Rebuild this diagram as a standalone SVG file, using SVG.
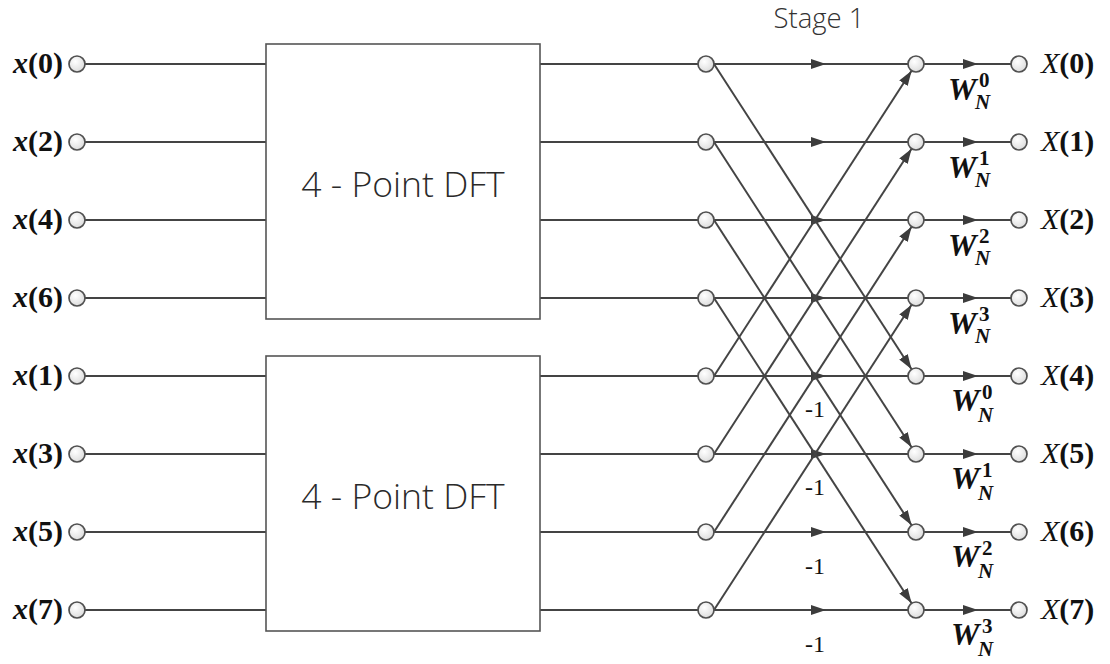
<svg xmlns="http://www.w3.org/2000/svg" width="1110" height="664" viewBox="0 0 1110 664">
  <defs>
    <radialGradient id="nodeFill" cx="0.4" cy="0.35" r="0.75">
      <stop offset="0" stop-color="#ffffff"/>
      <stop offset="1" stop-color="#d8d8d8"/>
    </radialGradient>
    <marker id="arrow" markerUnits="userSpaceOnUse" markerWidth="16" markerHeight="11" refX="15" refY="5" orient="auto" viewBox="0 0 16 10">
      <path d="M0,0 L15,5 L0,10 z" fill="#3c3c3c"/>
    </marker>
    <style>
      .wire { stroke: #444; stroke-width: 2; fill: none; }
      .flow { stroke: #444; stroke-width: 2; fill: none; marker-end: url(#arrow); }
      .node { fill: url(#nodeFill); stroke: #505050; stroke-width: 1.7; }
      .block { fill: #fff; stroke: #555; stroke-width: 1.6; }
      .blockText { font-family: "Open Sans", "Noto Sans", sans-serif; font-weight: 300; font-size: 35.5px; fill: #2a2a2a; text-anchor: middle; }
      .stage { font-family: "Open Sans", "Noto Sans", sans-serif; font-weight: 300; font-size: 27.5px; fill: #333; text-anchor: middle; }
      .inLabel { font-family: "Liberation Serif", "Times New Roman", serif; font-size: 30px; font-weight: bold; fill: #111; text-anchor: end; }
      .outLabel { font-family: "Liberation Serif", "Times New Roman", serif; font-size: 30px; fill: #111; }
      .it { font-style: italic; }
      .bd { font-weight: bold; }
      .tw { font-family: "Liberation Serif", "Times New Roman", serif; font-weight: bold; fill: #111; }
      .tw .w { font-size: 32px; font-style: italic; }
      .tw .sup { font-size: 21px; }
      .tw .sub { font-size: 21px; font-style: italic; }
      .neg { font-family: "Liberation Serif", "Times New Roman", serif; font-size: 24px; fill: #111; text-anchor: middle; }
    </style>
  </defs>

  <rect width="1110" height="664" fill="#fff"/>

  <text class="stage" x="819" y="28">Stage 1</text>

  <!-- wires and butterfly connectors -->
  <g id="connectors">
    <!-- inputs into the 4-point blocks -->
    <path class="wire" d="M85,64 H266 M85,142 H266 M85,220 H266 M85,298 H266 M85,376 H266 M85,454 H266 M85,532 H266 M85,610 H266"/>
    <!-- block outputs to stage nodes -->
    <path class="wire" d="M540,64 H698 M540,142 H698 M540,220 H698 M540,298 H698 M540,376 H698 M540,454 H698 M540,532 H698 M540,610 H698"/>
    <!-- straight butterfly branches -->
    <path class="flow" d="M714,64 H826"/><path class="wire" d="M826,64 H908"/>
    <path class="flow" d="M714,142 H826"/><path class="wire" d="M826,142 H908"/>
    <path class="flow" d="M714,220 H826"/><path class="wire" d="M826,220 H908"/>
    <path class="flow" d="M714,298 H826"/><path class="wire" d="M826,298 H908"/>
    <path class="flow" d="M714,376 H826"/><path class="wire" d="M826,376 H908"/>
    <path class="flow" d="M714,454 H826"/><path class="wire" d="M826,454 H908"/>
    <path class="flow" d="M714,532 H826"/><path class="wire" d="M826,532 H908"/>
    <path class="flow" d="M714,610 H826"/><path class="wire" d="M826,610 H908"/>
    <!-- crossing butterfly branches (down) -->
    <path class="flow" d="M714,64 L911.6,369.3"/>
    <path class="flow" d="M714,142 L911.6,447.3"/>
    <path class="flow" d="M714,220 L911.6,525.3"/>
    <path class="flow" d="M714,298 L911.6,603.3"/>
    <!-- crossing butterfly branches (up) -->
    <path class="flow" d="M714,376 L911.6,70.7"/>
    <path class="flow" d="M714,454 L911.6,148.7"/>
    <path class="flow" d="M714,532 L911.6,226.7"/>
    <path class="flow" d="M714,610 L911.6,304.7"/>
    <!-- twiddle-factor branches to outputs -->
    <path class="flow" d="M924,64 H978"/><path class="wire" d="M978,64 H1011"/>
    <path class="flow" d="M924,142 H978"/><path class="wire" d="M978,142 H1011"/>
    <path class="flow" d="M924,220 H978"/><path class="wire" d="M978,220 H1011"/>
    <path class="flow" d="M924,298 H978"/><path class="wire" d="M978,298 H1011"/>
    <path class="flow" d="M924,376 H978"/><path class="wire" d="M978,376 H1011"/>
    <path class="flow" d="M924,454 H978"/><path class="wire" d="M978,454 H1011"/>
    <path class="flow" d="M924,532 H978"/><path class="wire" d="M978,532 H1011"/>
    <path class="flow" d="M924,610 H978"/><path class="wire" d="M978,610 H1011"/>
  </g>

  <!-- 4-point DFT blocks -->
  <g id="dft-even">
    <rect class="block" x="266" y="44" width="274" height="275"/>
    <text class="blockText" x="403" y="197">4 - Point DFT</text>
  </g>
  <g id="dft-odd">
    <rect class="block" x="266" y="356" width="274" height="275"/>
    <text class="blockText" x="403" y="509">4 - Point DFT</text>
  </g>

  <!-- input nodes -->
  <g id="in-0"><circle class="node" cx="77" cy="64" r="8"/><text class="inLabel" x="63" y="73"><tspan class="it">x</tspan>(0)</text></g>
  <g id="in-2"><circle class="node" cx="77" cy="142" r="8"/><text class="inLabel" x="63" y="151"><tspan class="it">x</tspan>(2)</text></g>
  <g id="in-4"><circle class="node" cx="77" cy="220" r="8"/><text class="inLabel" x="63" y="229"><tspan class="it">x</tspan>(4)</text></g>
  <g id="in-6"><circle class="node" cx="77" cy="298" r="8"/><text class="inLabel" x="63" y="307"><tspan class="it">x</tspan>(6)</text></g>
  <g id="in-1"><circle class="node" cx="77" cy="376" r="8"/><text class="inLabel" x="63" y="385"><tspan class="it">x</tspan>(1)</text></g>
  <g id="in-3"><circle class="node" cx="77" cy="454" r="8"/><text class="inLabel" x="63" y="463"><tspan class="it">x</tspan>(3)</text></g>
  <g id="in-5"><circle class="node" cx="77" cy="532" r="8"/><text class="inLabel" x="63" y="541"><tspan class="it">x</tspan>(5)</text></g>
  <g id="in-7"><circle class="node" cx="77" cy="610" r="8"/><text class="inLabel" x="63" y="619"><tspan class="it">x</tspan>(7)</text></g>

  <!-- stage input nodes -->
  <g id="a-0"><circle class="node" cx="706" cy="64" r="8"/></g>
  <g id="a-1"><circle class="node" cx="706" cy="142" r="8"/></g>
  <g id="a-2"><circle class="node" cx="706" cy="220" r="8"/></g>
  <g id="a-3"><circle class="node" cx="706" cy="298" r="8"/></g>
  <g id="a-4"><circle class="node" cx="706" cy="376" r="8"/></g>
  <g id="a-5"><circle class="node" cx="706" cy="454" r="8"/></g>
  <g id="a-6"><circle class="node" cx="706" cy="532" r="8"/></g>
  <g id="a-7"><circle class="node" cx="706" cy="610" r="8"/></g>

  <!-- sum nodes with twiddle factors and sign labels -->
  <g id="b-0"><circle class="node" cx="916" cy="64" r="8"/>
    <text class="tw"><tspan class="w" x="948" y="100">W</tspan><tspan class="sup" x="979" y="87">0</tspan><tspan class="sub" x="975" y="109">N</tspan></text></g>
  <g id="b-1"><circle class="node" cx="916" cy="142" r="8"/>
    <text class="tw"><tspan class="w" x="948" y="178">W</tspan><tspan class="sup" x="979" y="165">1</tspan><tspan class="sub" x="975" y="187">N</tspan></text></g>
  <g id="b-2"><circle class="node" cx="916" cy="220" r="8"/>
    <text class="tw"><tspan class="w" x="948" y="256">W</tspan><tspan class="sup" x="979" y="243">2</tspan><tspan class="sub" x="975" y="265">N</tspan></text></g>
  <g id="b-3"><circle class="node" cx="916" cy="298" r="8"/>
    <text class="tw"><tspan class="w" x="948" y="334">W</tspan><tspan class="sup" x="979" y="321">3</tspan><tspan class="sub" x="975" y="343">N</tspan></text></g>
  <g id="b-4"><circle class="node" cx="916" cy="376" r="8"/>
    <text class="neg" x="815" y="417">-1</text>
    <text class="tw"><tspan class="w" x="951" y="411">W</tspan><tspan class="sup" x="982" y="399">0</tspan><tspan class="sub" x="978" y="422">N</tspan></text></g>
  <g id="b-5"><circle class="node" cx="916" cy="454" r="8"/>
    <text class="neg" x="815" y="495">-1</text>
    <text class="tw"><tspan class="w" x="951" y="489">W</tspan><tspan class="sup" x="982" y="477">1</tspan><tspan class="sub" x="978" y="500">N</tspan></text></g>
  <g id="b-6"><circle class="node" cx="916" cy="532" r="8"/>
    <text class="neg" x="815" y="574">-1</text>
    <text class="tw"><tspan class="w" x="951" y="567">W</tspan><tspan class="sup" x="982" y="555">2</tspan><tspan class="sub" x="978" y="578">N</tspan></text></g>
  <g id="b-7"><circle class="node" cx="916" cy="610" r="8"/>
    <text class="neg" x="815" y="652">-1</text>
    <text class="tw"><tspan class="w" x="951" y="645">W</tspan><tspan class="sup" x="982" y="633">3</tspan><tspan class="sub" x="978" y="656">N</tspan></text></g>

  <!-- output nodes -->
  <g id="out-0"><circle class="node" cx="1019" cy="64" r="8"/><text class="outLabel" x="1041" y="73"><tspan class="it">X</tspan><tspan class="bd">(0)</tspan></text></g>
  <g id="out-1"><circle class="node" cx="1019" cy="142" r="8"/><text class="outLabel" x="1041" y="151"><tspan class="it">X</tspan><tspan class="bd">(1)</tspan></text></g>
  <g id="out-2"><circle class="node" cx="1019" cy="220" r="8"/><text class="outLabel" x="1041" y="229"><tspan class="it">X</tspan><tspan class="bd">(2)</tspan></text></g>
  <g id="out-3"><circle class="node" cx="1019" cy="298" r="8"/><text class="outLabel" x="1041" y="307"><tspan class="it">X</tspan><tspan class="bd">(3)</tspan></text></g>
  <g id="out-4"><circle class="node" cx="1019" cy="376" r="8"/><text class="outLabel" x="1041" y="385"><tspan class="it">X</tspan><tspan class="bd">(4)</tspan></text></g>
  <g id="out-5"><circle class="node" cx="1019" cy="454" r="8"/><text class="outLabel" x="1041" y="463"><tspan class="it">X</tspan><tspan class="bd">(5)</tspan></text></g>
  <g id="out-6"><circle class="node" cx="1019" cy="532" r="8"/><text class="outLabel" x="1041" y="541"><tspan class="it">X</tspan><tspan class="bd">(6)</tspan></text></g>
  <g id="out-7"><circle class="node" cx="1019" cy="610" r="8"/><text class="outLabel" x="1041" y="619"><tspan class="it">X</tspan><tspan class="bd">(7)</tspan></text></g>
</svg>
